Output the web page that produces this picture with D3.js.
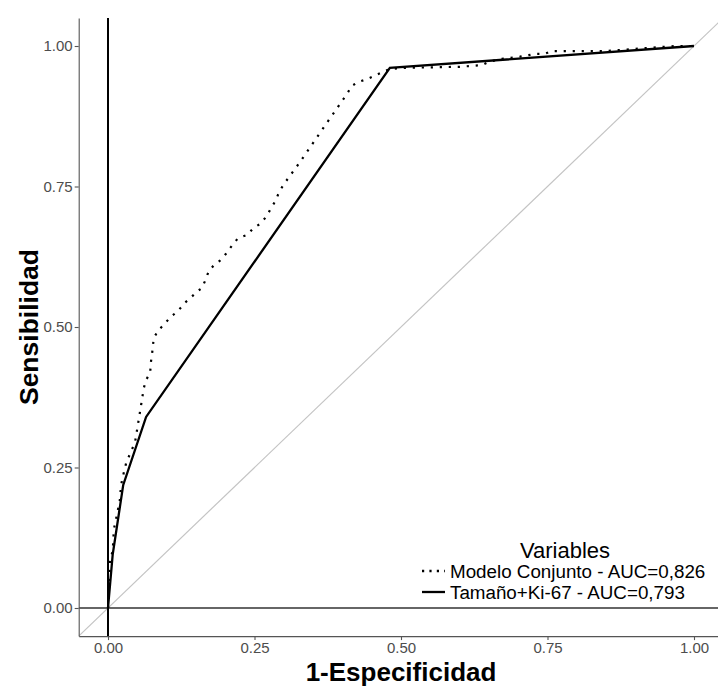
<!DOCTYPE html>
<html>
<head>
<meta charset="utf-8">
<script src="https://cdn.jsdelivr.net/npm/d3@7"></script>
<style>
  body { margin: 0; background: #fff; }
  svg { display: block; font-family: "Liberation Sans", Arial, sans-serif; }
</style>
</head>
<body>
<svg width="718" height="686"></svg>
<script>
// ROC curves
const seriesNames = ["Modelo Conjunto - AUC=0,826", "Tamaño+Ki-67 - AUC=0,793"];

const modeloFpr = [0, 0.002, 0.004, 0.008, 0.010, 0.015, 0.020, 0.022, 0.024, 0.031, 0.039, 0.046,
  0.051, 0.056, 0.061, 0.065, 0.072, 0.073, 0.075, 0.078, 0.085, 0.096, 0.107, 0.119, 0.131,
  0.142, 0.153, 0.160, 0.167, 0.172, 0.181, 0.191, 0.201, 0.211, 0.221, 0.230, 0.238, 0.248,
  0.259, 0.270, 0.278, 0.286, 0.292, 0.300, 0.328, 0.372, 0.408, 0.416, 0.427, 0.442, 0.457,
  0.471, 0.481, 0.50, 0.55, 0.60, 0.638, 0.65, 0.672, 0.703, 0.73, 0.745, 0.757, 0.85, 0.90,
  0.94, 0.97, 1];
const modeloTpr = [0, 0.05, 0.09, 0.10, 0.14, 0.165, 0.19, 0.215, 0.228, 0.258, 0.278, 0.294,
  0.326, 0.358, 0.391, 0.406, 0.418, 0.436, 0.45, 0.48, 0.493, 0.505, 0.518, 0.528, 0.543,
  0.553, 0.564, 0.569, 0.585, 0.600, 0.610, 0.618, 0.630, 0.644, 0.657, 0.661, 0.664, 0.676,
  0.683, 0.696, 0.711, 0.725, 0.740, 0.754, 0.794, 0.861, 0.915, 0.929, 0.936, 0.941, 0.948,
  0.955, 0.959, 0.961, 0.962, 0.963, 0.966, 0.972, 0.977, 0.981, 0.986, 0.986, 0.991, 0.991,
  0.995, 0.998, 1.0, 1];

const tamanoFpr = [0, 0.008, 0.026, 0.065, 0.481, 1];
const tamanoTpr = [0, 0.095, 0.219, 0.340, 0.961, 1];

const tickValues = [0, 0.25, 0.5, 0.75, 1];

const svg = d3.select("svg");

const x = d3.scaleLinear().domain([-0.05, 1.05]).range([78.7, 723.3]);
const y = d3.scaleLinear().domain([-0.05, 1.05]).range([636.1, 17.9]);

const line = d3.line()
  .x((d) => x(d[0]))
  .y((d) => y(d[1]));

// panel clip
svg.append("defs").append("clipPath").attr("id", "panel")
  .append("rect")
  .attr("x", x(-0.05)).attr("y", y(1.05))
  .attr("width", x(1.05) - x(-0.05)).attr("height", y(-0.05) - y(1.05));

const plot = svg.append("g").attr("clip-path", "url(#panel)");

// diagonal reference
plot.append("line")
  .attr("x1", x(-0.05)).attr("y1", y(-0.05))
  .attr("x2", x(1.05)).attr("y2", y(1.05))
  .attr("stroke", "#c4c4c4")
  .attr("stroke-width", 1.2);

// zero lines
plot.append("line")
  .attr("x1", x(-0.05)).attr("x2", x(1.05))
  .attr("y1", y(0)).attr("y2", y(0))
  .attr("stroke", "#333")
  .attr("stroke-width", 1.3);
plot.append("line")
  .attr("x1", x(0)).attr("x2", x(0))
  .attr("y1", y(-0.05)).attr("y2", y(1.05))
  .attr("stroke", "#000")
  .attr("stroke-width", 2);

// curves
plot.append("path")
  .datum(tamanoFpr.map((v, i) => [v, tamanoTpr[i]]))
  .attr("d", line)
  .attr("fill", "none")
  .attr("stroke", "#000")
  .attr("stroke-width", 2.3);

plot.append("path")
  .datum(modeloFpr.map((v, i) => [v, modeloTpr[i]]))
  .attr("d", line)
  .attr("fill", "none")
  .attr("stroke", "#000")
  .attr("stroke-width", 2.2)
  .attr("stroke-dasharray", "2.2,6.8");

// axes
const fmt = d3.format(".2f");
const xAxis = svg.append("g")
  .attr("transform", `translate(0,${y(-0.05)})`)
  .call(d3.axisBottom(x).tickValues(tickValues).tickFormat(fmt).tickSize(4).tickSizeOuter(0).tickPadding(2));
const yAxis = svg.append("g")
  .attr("transform", `translate(${x(-0.05)},0)`)
  .call(d3.axisLeft(y).tickValues(tickValues).tickFormat(fmt).tickSize(4).tickSizeOuter(0).tickPadding(2));

[xAxis, yAxis].forEach((g) => {
  g.select(".domain").attr("stroke", "#555").attr("stroke-width", 1.1);
  g.selectAll(".tick line").attr("stroke", "#555").attr("stroke-width", 1.1);
  g.selectAll(".tick text")
    .attr("fill", "#4d4d4d")
    .style("font-size", "15px")
    .style("font-family", "'Liberation Sans', Arial, sans-serif");
});

// axis titles
svg.append("text")
  .attr("x", (x(-0.05) + x(1.05)) / 2)
  .attr("y", 681)
  .attr("text-anchor", "middle")
  .attr("font-weight", "bold")
  .attr("font-size", 26)
  .text("1-Especificidad");

svg.append("text")
  .attr("transform", `translate(38,${(y(-0.05) + y(1.05)) / 2}) rotate(-90)`)
  .attr("text-anchor", "middle")
  .attr("font-weight", "bold")
  .attr("font-size", 26.5)
  .text("Sensibilidad");

// legend
const legend = svg.append("g");
legend.append("text")
  .attr("x", 565)
  .attr("y", 558)
  .attr("text-anchor", "middle")
  .attr("font-size", 22)
  .text("Variables");

const legendRows = [
  { name: seriesNames[0], dash: "2.2,5.2" },
  { name: seriesNames[1], dash: null }
];
legendRows.forEach((row, i) => {
  const cy = 571 + i * 21;
  legend.append("line")
    .attr("x1", 422).attr("x2", 445)
    .attr("y1", cy).attr("y2", cy)
    .attr("stroke", "#000")
    .attr("stroke-width", 2.3)
    .attr("stroke-dasharray", row.dash);
  legend.append("text")
    .attr("x", 450)
    .attr("y", cy)
    .attr("dy", "0.35em")
    .attr("font-size", 18.8)
    .text(row.name);
});
</script>
</body>
</html>
